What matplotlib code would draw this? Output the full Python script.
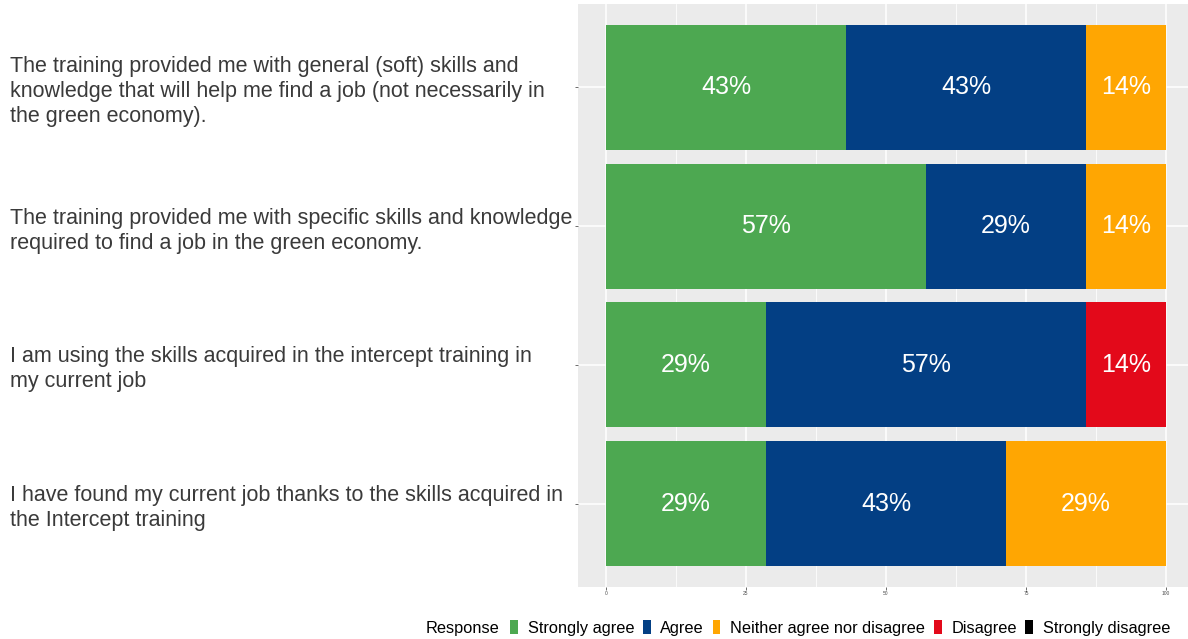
import numpy as np
import matplotlib
matplotlib.use("Agg")
import matplotlib.pyplot as plt
from matplotlib.patches import Patch

plt.rcParams["font.family"] = ["Liberation Sans", "DejaVu Sans"]

# Survey statements (top to bottom) and response counts out of 7 respondents
statements = [
    "The training provided me with general (soft) skills and\nknowledge that will help me find a job (not necessarily in\nthe green economy).",
    "The training provided me with specific skills and knowledge\nrequired to find a job in the green economy.",
    "I am using the skills acquired in the intercept training in\nmy current job",
    "I have found my current job thanks to the skills acquired in\nthe Intercept training",
]
responses = ["Strongly agree", "Agree", "Neither agree nor disagree", "Disagree", "Strongly disagree"]
colors = ["#4DA851", "#033F84", "#FFA602", "#E3091A", "#000000"]
n_respondents = 7
strongly_agree = [3, 4, 2, 2]
agree = [3, 2, 4, 3]
neither = [1, 1, 0, 2]
disagree = [0, 0, 1, 0]
strongly_disagree = [0, 0, 0, 0]
x_ticks = [0, 25, 50, 75, 100]

counts = np.array([strongly_agree, agree, neither, disagree, strongly_disagree], dtype=float)
shares = counts / n_respondents * 100

W, H = 1188, 639
fig = plt.figure(figsize=(W / 100, H / 100), dpi=100)
fig.patch.set_facecolor("white")
ax = fig.add_axes([578 / W, (H - 587) / H, (1194 - 578) / W, (587 - 4) / H])
ax.set_facecolor("#EBEBEB")

ypos = np.arange(len(statements))[::-1] + 1  # first statement on top
left = np.zeros(len(statements))
for k, resp in enumerate(responses):
    vals = shares[k]
    ax.barh(ypos, vals, left=left, height=0.9, color=colors[k],
            edgecolor="none", zorder=3)
    for y, l, v in zip(ypos, left, vals):
        if v > 0:
            ax.text(l + v / 2, y, f"{round(v):.0f}%", ha="center", va="center",
                    color="white", fontsize=18, zorder=4)
    left += vals

ax.set_xlim(-5, 105)
ax.set_ylim(0.4, len(statements) + 0.6)

# ggplot-like grid
ax.set_xticks(x_ticks)
ax.set_xticks([12.5, 37.5, 62.5, 87.5], minor=True)
ax.grid(which="major", color="white", linewidth=1.1, zorder=1)
ax.grid(which="minor", axis="x", color="white", linewidth=0.55, zorder=1)
for s in ax.spines.values():
    s.set_visible(False)

ax.set_xticklabels([str(t) for t in x_ticks], fontsize=3.5, color="#4D4D4D")
ax.tick_params(axis="x", length=2, color="#333333", width=0.5, pad=1)
ax.tick_params(axis="x", which="minor", length=0)

ax.set_yticks(ypos)
ax.set_yticklabels(statements, fontsize=15.5, color="#3A3A3A", linespacing=1.25)
ax.tick_params(axis="y", length=2, color="#555555", width=0.6,
               pad=(578 - 3 - 10) * 0.72)
for lbl in ax.get_yticklabels():
    lbl.set_horizontalalignment("left")

# Legend along the bottom
fig.text(426 / W, 11 / H, "Response", fontsize=11.8, color="black",
         ha="left", va="center")
handles = [Patch(facecolor=c, edgecolor="none", label=r) for c, r in zip(colors, responses)]
fig.legend(handles=handles, loc="center left", bbox_to_anchor=(510 / W, 11 / H),
           ncol=5, frameon=False, fontsize=11.8, handlelength=0.48,
           handleheight=0.95, handletextpad=0.6, columnspacing=0.52,
           borderpad=0, borderaxespad=0)

fig.savefig("out.png", dpi=100)
